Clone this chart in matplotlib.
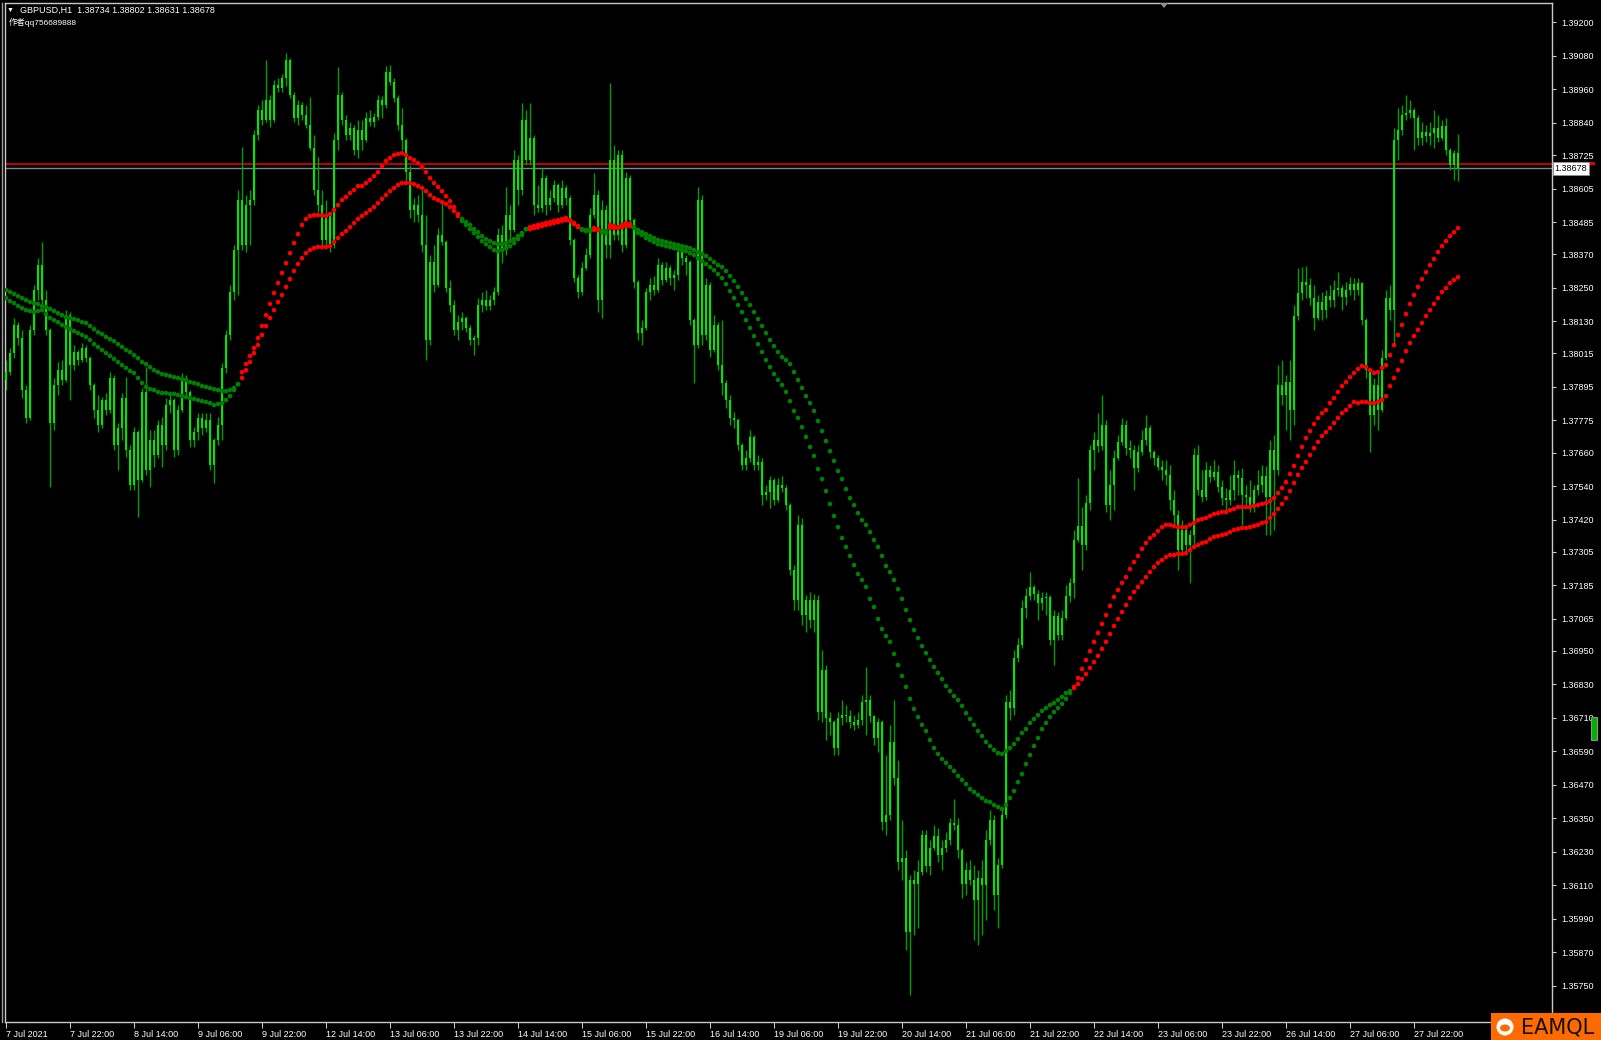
import numpy as np
import matplotlib
matplotlib.use("Agg")
import matplotlib.pyplot as plt
import matplotlib.transforms as mtransforms
from matplotlib.patches import Rectangle, Ellipse, Polygon
from matplotlib.lines import Line2D

plt.rcParams['font.family'] = ['Liberation Sans', 'Noto Sans CJK SC', 'DejaVu Sans']

W, H = 1601, 1040

symbol = "GBPUSD,H1"
last_ohlc = [1.38734, 1.38802, 1.38631, 1.38678]
author = "作者qq756689888"
bid_price = 1.38678
ask_price = 1.38692

# hourly bars, prices in points (1e-5), open of each bar = previous close
first_open = 137920
close_pts = [
    137948, 138016, 138117, 138070, 137884, 137784, 138099, 138242, 138331, 138206,
    138099, 137766, 137902, 137955, 137920, 138152, 137973, 138020, 137991, 138034,
    137998, 137902, 137812, 137759, 137848, 137812, 137927, 137687, 137748, 137855,
    137669, 137544, 137733, 137562, 137877, 137597, 137705, 137651, 137759, 137687,
    137830, 137848, 137669, 137812, 137927, 137877, 137705, 137733, 137784, 137748,
    137776, 137615, 137705, 137759, 137963, 138081, 138235, 138385, 138564, 138403,
    138546, 138564, 138797, 138886, 138850, 138922, 138850, 138976, 138965, 139001,
    139065, 138940, 138858, 138904, 138868, 138833, 138750, 138600, 138546, 138421,
    138510, 138403, 138779, 138940, 138850, 138797, 138822, 138743, 138815, 138779,
    138858, 138843, 138861, 138922, 138904, 139022, 138986, 138929, 138833, 138779,
    138664, 138528, 138546, 138510, 138403, 138063, 138342, 138260, 138439, 138414,
    138249, 138188, 138099, 138127, 138142, 138106, 138063, 138070, 138188, 138206,
    138185, 138206, 138235, 138439, 138385, 138510, 138457, 138707, 138600, 138850,
    138707, 138786, 138546, 138535, 138643, 138546, 138571, 138618, 138546, 138607,
    138571, 138421, 138285, 138235, 138321, 138367, 138510, 138582, 138206, 138528,
    138403, 138707, 138439, 138725, 138403, 138643, 138492, 138271, 138088, 138106,
    138235, 138260, 138242, 138331, 138278, 138321, 138285, 138296, 138378, 138356,
    138342, 138134, 138045, 138564, 138081, 138260, 138027, 138117, 137973, 137909,
    137848, 137784, 137776, 137687, 137615, 137640, 137716, 137615, 137626, 137508,
    137519, 137562, 137490, 137544, 137533, 137472, 137239, 137132, 137401, 137078,
    137132, 137060, 137132, 136731, 136881, 136710, 136696, 136602, 136710, 136720,
    136717, 136696, 136685, 136702, 136767, 136774, 136717, 136638, 136696, 136337,
    136362, 136624, 136495, 136194, 136208, 135943, 136130, 136115, 136158, 136291,
    136180, 136244, 136287, 136219, 136244, 136273, 136334, 136327, 136237, 136115,
    136165, 136130, 136058, 136137, 136112, 136273, 136345, 136076, 136183, 136362,
    136767, 136745, 136925, 136971, 137103, 137146, 137179, 137153, 137121, 137139,
    137143, 136989, 137075, 137007, 137068, 137146, 137193, 137346, 137397, 137329,
    137479, 137669, 137705, 137683, 137759, 137472, 137544, 137640, 137698, 137759,
    137676, 137669, 137604, 137662, 137705, 137748, 137662, 137640, 137608, 137597,
    137580, 137490, 137436, 137311, 137383, 137329, 137365, 137651, 137526, 137501,
    137597, 137572, 137590, 137537, 137497, 137490, 137526, 137580, 137569, 137508,
    137501, 137472, 137526, 137544, 137576, 137501, 137669, 137597, 137902, 137866,
    137912, 137812, 138149, 138231, 138270, 138260, 138213, 138142, 138199, 138170,
    138220, 138206, 138242, 138249, 138217, 138242, 138263, 138242, 138267, 138134,
    137955, 137794, 137902, 137812, 137998, 138213, 138170, 138779, 138815, 138868,
    138875, 138886, 138858, 138786, 138807, 138793, 138804, 138822, 138786, 138829,
    138743, 138689, 138734, 138678,
]
high_pts = [
    137991, 138034, 138142, 138127, 138099, 137902, 138117, 138260, 138356, 138414,
    138242, 138106, 137927, 137984, 137991, 138170, 138163, 138045, 138027, 138052,
    138045, 138006, 137909, 137866, 137859, 137873, 137948, 137938, 137766, 137873,
    137930, 137687, 137751, 137741, 137891, 137966, 137741, 137741, 137776, 137787,
    137855, 137873, 137855, 137830, 137945, 137938, 137884, 137751, 137801, 137801,
    137801, 137801, 137712, 137787, 137980, 138099, 138260, 138403, 138600, 138754,
    138582, 138600, 138815, 138904, 138922, 139065, 138940, 138994, 139001, 139015,
    139090, 139072, 138951, 138922, 138915, 138904, 138933, 138797, 138718, 138600,
    138564, 138510, 138804, 139040, 138951, 138868, 138843, 138833, 138850, 138850,
    138879, 138886, 138875, 138940, 138936, 139044, 139047, 139001, 138940, 138893,
    138786, 138689, 138571, 138582, 138600, 138510, 138367, 138403, 138464, 138553,
    138421, 138278, 138206, 138152, 138163, 138149, 138117, 138081, 138213, 138235,
    138242, 138224, 138253, 138464, 138475, 138611, 138546, 138743, 138725, 138911,
    138886, 138911, 138797, 138618, 138679, 138654, 138600, 138636, 138625, 138636,
    138618, 138582, 138428, 138296, 138342, 138392, 138535, 138661, 138600, 138564,
    138546, 138983, 138761, 138743, 138743, 138664, 138654, 138500, 138278, 138134,
    138249, 138285, 138292, 138356, 138342, 138342, 138331, 138313, 138392, 138403,
    138367, 138349, 138142, 138611, 138582, 138285, 138271, 138152, 138127, 138134,
    137920, 137866, 137805, 137784, 137694, 137669, 137741, 137723, 137651, 137640,
    137544, 137576, 137569, 137569, 137576, 137544, 137479, 137257, 137436, 137426,
    137150, 137161, 137153, 137150, 136953, 136899, 136731, 136702, 136731, 136774,
    136756, 136738, 136720, 136731, 136792, 136892, 136792, 136720, 136710, 136702,
    136577, 136685, 136774, 136559, 136344, 136237, 136148, 136165, 136201, 136309,
    136309, 136273, 136327, 136316, 136273, 136301, 136352, 136420, 136352, 136244,
    136194, 136201, 136183, 136165, 136201, 136309, 136380, 136362, 136208, 136380,
    136792, 136810, 136953, 136996, 137132, 137175, 137232, 137186, 137168, 137161,
    137161, 137150, 137096, 137089, 137096, 137186, 137211, 137383, 137569, 137465,
    137508, 137687, 137733, 137801, 137866, 137776, 137597, 137669, 137723, 137784,
    137776, 137705, 137687, 137687, 137741, 137794, 137759, 137669, 137651, 137633,
    137633, 137615, 137526, 137454, 137418, 137401, 137383, 137676, 137687, 137597,
    137626, 137615, 137633, 137615, 137562, 137533, 137580, 137633, 137597, 137605,
    137544, 137562, 137544, 137597, 137615, 137612, 137705, 137723, 137973, 137991,
    137938, 137991, 138188, 138321, 138324, 138328, 138285, 138260, 138224, 138235,
    138242, 138260, 138278, 138306, 138260, 138270, 138288, 138285, 138285, 138270,
    138142, 137963, 137927, 137948, 138027, 138242, 138260, 138822, 138893, 138904,
    138940, 138922, 138893, 138868, 138843, 138833, 138843, 138886, 138868, 138850,
    138858, 138750, 138743, 138802,
]
low_pts = [
    137884, 137938, 137998, 138045, 137855, 137766, 137776, 138081, 138206, 138188,
    138081, 137537, 137741, 137866, 137902, 137912, 137848, 137955, 137973, 137984,
    137984, 137884, 137784, 137733, 137748, 137794, 137801, 137669, 137597, 137705,
    137644, 137526, 137526, 137429, 137554, 137580, 137537, 137608, 137640, 137608,
    137669, 137801, 137644, 137651, 137805, 137855, 137680, 137680, 137705, 137723,
    137733, 137597, 137551, 137687, 137705, 137945, 138063, 138206, 138224, 138385,
    138378, 138403, 138546, 138779, 138833, 138843, 138825, 138843, 138951, 138951,
    138972, 138929, 138843, 138833, 138850, 138822, 138743, 138582, 138521, 138392,
    138403, 138378, 138392, 138743, 138833, 138779, 138779, 138725, 138714, 138743,
    138772, 138829, 138825, 138850, 138858, 138893, 138976, 138915, 138815, 138743,
    138628, 138500, 138485, 138485, 138378, 137991, 138045, 138235, 138253, 138403,
    138235, 138163, 138081, 138063, 138099, 138091, 138045, 138009, 138045, 138163,
    138170, 138170, 138188, 138224, 138338, 138367, 138421, 138449, 138546, 138582,
    138689, 138689, 138510, 138521, 138521, 138510, 138528, 138557, 138521, 138535,
    138546, 138403, 138270, 138213, 138224, 138313, 138356, 138500, 138163, 138142,
    138356, 138356, 138421, 138421, 138378, 138392, 138464, 138249, 138063, 138045,
    138099, 138206, 138224, 138235, 138260, 138270, 138260, 138242, 138278, 138331,
    138296, 138117, 137909, 138034, 138045, 138063, 138002, 138020, 137955, 137866,
    137819, 137759, 137748, 137669, 137597, 137597, 137626, 137597, 137597, 137472,
    137490, 137461, 137472, 137483, 137519, 137454, 137222, 137096, 137096, 137043,
    137017, 137032, 137017, 136702, 136696, 136631, 136649, 136577, 136577, 136685,
    136696, 136674, 136667, 136674, 136685, 136649, 136696, 136613, 136588, 136309,
    136291, 136344, 136470, 136165, 136130, 135879, 135718, 135933, 135958, 136148,
    136158, 136148, 136237, 136194, 136165, 136230, 136255, 136309, 136208, 136065,
    136076, 136112, 135915, 135897, 135933, 135986, 136255, 136022, 135958, 136173,
    136352, 136702, 136720, 136910, 136960, 137068, 137132, 137132, 137060, 137096,
    137078, 136971, 136899, 136989, 136989, 137060, 137125, 137139, 137340, 137239,
    137311, 137454, 137597, 137662, 137669, 137447, 137418, 137454, 137633, 137687,
    137651, 137640, 137526, 137590, 137651, 137687, 137640, 137615, 137597, 137562,
    137544, 137454, 137401, 137239, 137293, 137304, 137193, 137329, 137508, 137483,
    137490, 137554, 137562, 137519, 137472, 137454, 137472, 137490, 137508, 137401,
    137472, 137447, 137447, 137508, 137519, 137365, 137365, 137383, 137580, 137830,
    137741, 137705, 137759, 138134, 138206, 138213, 138188, 138099, 138134, 138134,
    138142, 138181, 138181, 138220, 138170, 138188, 138224, 138206, 138224, 138117,
    137927, 137662, 137759, 137741, 137805, 137991, 138134, 138045, 138707, 138797,
    138850, 138858, 138743, 138761, 138761, 138772, 138761, 138750, 138772, 138779,
    138725, 138671, 138636, 138631,
]

# two moving averages, one value per bar
ma_fast_pts = [
    138213, 138202, 138195, 138185, 138177, 138170, 138167, 138163, 138167, 138170,
    138156, 138142, 138134, 138127, 138117, 138109, 138102, 138095, 138088, 138081,
    138074, 138063, 138048, 138038, 138027, 138016, 138006, 137995, 137984, 137973,
    137963, 137952, 137945, 137927, 137909, 137895, 137887, 137884, 137877, 137873,
    137873, 137870, 137870, 137866, 137862, 137859, 137855, 137852, 137848, 137844,
    137841, 137837, 137830, 137834, 137837, 137848, 137862, 137884, 137905, 137948,
    137977, 138006, 138034, 138070, 138113, 138152, 138192, 138231, 138267, 138303,
    138338, 138374, 138410, 138442, 138475, 138496, 138507, 138510, 138510, 138510,
    138507, 138514, 138528, 138546, 138564, 138575, 138589, 138600, 138614, 138614,
    138625, 138636, 138650, 138664, 138686, 138704, 138714, 138725, 138729, 138732,
    138725, 138714, 138707, 138696, 138682, 138664, 138643, 138625, 138611, 138596,
    138578, 138560, 138539, 138514, 138489, 138475, 138460, 138446, 138432, 138417,
    138406, 138396, 138385, 138381, 138385, 138392, 138399, 138410, 138424, 138439,
    138460, 138467, 138471, 138475, 138478, 138482, 138485, 138489, 138492, 138496,
    138500, 138492, 138482, 138471, 138457, 138453, 138453, 138464, 138460, 138449,
    138446, 138475, 138471, 138467, 138475, 138482, 138478, 138464, 138446, 138439,
    138428, 138421, 138414, 138406, 138403, 138399, 138396, 138392, 138389, 138385,
    138381, 138374, 138367, 138356, 138346, 138335, 138324, 138313, 138299, 138285,
    138263, 138238, 138213, 138188, 138163, 138134, 138106, 138077, 138048, 138020,
    137991, 137966, 137941, 137920, 137902, 137877, 137844, 137809, 137784, 137751,
    137716, 137680, 137648, 137601, 137565, 137522, 137476, 137433, 137393, 137354,
    137322, 137290, 137257, 137225, 137204, 137179, 137136, 137107, 137064, 137028,
    137003, 136982, 136939, 136899, 136860, 136821, 136778, 136742, 136713, 136685,
    136663, 136631, 136602, 136581, 136563, 136549, 136534, 136520, 136502, 136488,
    136473, 136455, 136445, 136434, 136423, 136412, 136409, 136398, 136391, 136384,
    136398, 136423, 136448, 136480, 136509, 136545, 136577, 136609, 136638, 136670,
    136692, 136713, 136731, 136745, 136760, 136778, 136799, 136821, 136853, 136885,
    136917, 136949, 136982, 137014, 137046, 137078, 137111, 137143, 137168, 137193,
    137214, 137243, 137268, 137290, 137315, 137336, 137354, 137365, 137379, 137393,
    137401, 137401, 137397, 137393, 137393, 137393, 137401, 137408, 137418, 137422,
    137426, 137433, 137440, 137443, 137447, 137447, 137454, 137458, 137465, 137465,
    137465, 137465, 137469, 137472, 137476, 137479, 137486, 137497, 137515, 137533,
    137554, 137583, 137612, 137648, 137680, 137712, 137737, 137762, 137784, 137801,
    137812, 137837, 137855, 137877, 137898, 137912, 137930, 137945, 137959, 137970,
    137966, 137955, 137945, 137948, 137963, 137973, 138009, 138045, 138081, 138117,
    138156, 138192, 138224, 138253, 138281, 138306, 138331, 138353, 138378, 138399,
    138417, 138435, 138449, 138464,
]
ma_slow_pts = [
    138242, 138235, 138228, 138220, 138213, 138206, 138199, 138195, 138192, 138185,
    138181, 138174, 138167, 138159, 138152, 138145, 138142, 138138, 138134, 138127,
    138124, 138113, 138102, 138091, 138084, 138074, 138066, 138059, 138048, 138038,
    138027, 138020, 138009, 137998, 137984, 137977, 137966, 137955, 137948, 137941,
    137938, 137934, 137930, 137927, 137923, 137920, 137912, 137909, 137905, 137898,
    137895, 137891, 137887, 137884, 137880, 137880, 137884, 137891, 137905, 137927,
    137955, 137984, 138016, 138045, 138081, 138113, 138142, 138170, 138199, 138224,
    138253, 138281, 138310, 138335, 138356, 138374, 138385, 138392, 138396, 138396,
    138396, 138399, 138414, 138428, 138442, 138453, 138467, 138482, 138496, 138507,
    138517, 138528, 138539, 138553, 138568, 138582, 138596, 138607, 138618, 138625,
    138625, 138625, 138621, 138614, 138607, 138596, 138582, 138571, 138564, 138557,
    138550, 138539, 138525, 138507, 138496, 138485, 138475, 138460, 138449, 138435,
    138424, 138417, 138410, 138406, 138406, 138410, 138417, 138424, 138435, 138446,
    138460, 138460, 138464, 138467, 138471, 138475, 138478, 138482, 138485, 138489,
    138492, 138489, 138478, 138467, 138460, 138457, 138457, 138457, 138457, 138453,
    138453, 138464, 138464, 138464, 138467, 138471, 138471, 138467, 138457, 138449,
    138442, 138435, 138428, 138421, 138417, 138414, 138410, 138406, 138403, 138399,
    138396, 138392, 138385, 138378, 138371, 138364, 138353, 138342, 138331, 138324,
    138310, 138292, 138274, 138253, 138231, 138210, 138188, 138163, 138138, 138113,
    138088, 138063, 138041, 138020, 138002, 137991, 137977, 137948, 137920, 137891,
    137862, 137837, 137809, 137773, 137737, 137701, 137665, 137630, 137594, 137565,
    137529, 137497, 137472, 137443, 137418, 137401, 137375, 137347, 137322, 137290,
    137254, 137232, 137204, 137171, 137136, 137096, 137060, 137025, 136996, 136967,
    136942, 136917, 136892, 136871, 136849, 136824, 136806, 136788, 136774, 136753,
    136727, 136706, 136685, 136663, 136645, 136624, 136609, 136595, 136584, 136581,
    136591, 136602, 136616, 136634, 136656, 136670, 136692, 136706, 136720, 136735,
    136745, 136756, 136763, 136774, 136785, 136799, 136806, 136817, 136831, 136849,
    136867, 136889, 136910, 136932, 136957, 136982, 137010, 137039, 137064, 137089,
    137114, 137139, 137161, 137179, 137196, 137214, 137232, 137250, 137265, 137275,
    137286, 137293, 137293, 137297, 137297, 137300, 137311, 137322, 137329, 137336,
    137340, 137350, 137358, 137361, 137365, 137368, 137375, 137383, 137386, 137390,
    137390, 137393, 137397, 137401, 137408, 137411, 137426, 137440, 137458, 137476,
    137497, 137522, 137551, 137580, 137605, 137626, 137651, 137676, 137698, 137719,
    137733, 137748, 137766, 137784, 137801, 137812, 137827, 137841, 137837, 137841,
    137841, 137837, 137837, 137841, 137848, 137862, 137898, 137927, 137955, 137988,
    138023, 138052, 138077, 138099, 138124, 138149, 138170, 138192, 138213, 138235,
    138249, 138267, 138278, 138288,
]

time_labels = [
    "7 Jul 2021", "7 Jul 22:00", "8 Jul 14:00", "9 Jul 06:00", "9 Jul 22:00",
    "12 Jul 14:00", "13 Jul 06:00", "13 Jul 22:00", "14 Jul 14:00", "15 Jul 06:00",
    "15 Jul 22:00", "16 Jul 14:00", "19 Jul 06:00", "19 Jul 22:00", "20 Jul 14:00",
    "21 Jul 06:00", "21 Jul 22:00", "22 Jul 14:00", "23 Jul 06:00", "23 Jul 22:00",
    "26 Jul 14:00", "27 Jul 06:00", "27 Jul 22:00",
]
label_step = 16
price_ticks = [
    1.39200, 1.39080, 1.38960, 1.38840, 1.38725, 1.38605, 1.38485, 1.38370,
    1.38250, 1.38130, 1.38015, 1.37895, 1.37775, 1.37660, 1.37540, 1.37420,
    1.37305, 1.37185, 1.37065, 1.36950, 1.36830, 1.36710, 1.36590, 1.36470,
    1.36350, 1.36230, 1.36110, 1.35990, 1.35870, 1.35750,
]

n = min(len(close_pts), len(high_pts), len(low_pts), len(ma_fast_pts), len(ma_slow_pts))

close = np.array(close_pts[:n]) / 1e5
high = np.array(high_pts[:n]) / 1e5
low = np.array(low_pts[:n]) / 1e5
opn = np.concatenate([[first_open / 1e5], close[:-1]])
high = np.maximum(high, np.maximum(opn, close))
low = np.minimum(low, np.minimum(opn, close))
fast = np.array(ma_fast_pts[:n]) / 1e5
slow = np.array(ma_slow_pts[:n]) / 1e5
x = np.arange(n)

fig = plt.figure(figsize=(W / 100, H / 100), dpi=100, facecolor='black')
ax = fig.add_axes([5 / W, 18 / H, 1547 / W, 1019 / H])
ax.set_facecolor('black')
ax.set_xlim(-0.25, 386.5)
ax.set_ylim(1.356211, 1.392696)

# bid / ask lines
ax.axhline(ask_price, color='#C00000', lw=1.4, zorder=1.5)
ax.axhline(bid_price, color='#778899', lw=1.0, zorder=1.5)

# candles
ax.vlines(x, low, high, colors='#00A000', linewidth=1.0, zorder=2)
body_lo = np.minimum(opn, close)
body_h = np.maximum(np.abs(close - opn), 0.00004)
ax.bar(x, body_h, bottom=body_lo, width=0.65, color='#00E600', linewidth=0, zorder=3)

# moving average dots, red while the fast one is above the slow one
up = fast > slow
dot_colors = np.where(up, '#FF0000', '#008000')
ax.scatter(x, slow, s=11, c=dot_colors, marker='o', linewidths=0, zorder=4)
ax.scatter(x, fast, s=11, c=dot_colors, marker='o', linewidths=0, zorder=4)

for sp in ax.spines.values():
    sp.set_color('#C8C8C8')
    sp.set_linewidth(1.0)

ax.yaxis.tick_right()
ax.set_yticks(price_ticks)
ax.set_yticklabels([f"{p:.5f}" for p in price_ticks])
ax.tick_params(axis='y', colors='#C8C8C8', labelcolor='white', labelsize=6.5,
               length=3, width=0.8, pad=4)
ax.set_xticks(list(range(0, label_step * len(time_labels), label_step)))
ax.set_xticklabels(time_labels)
ax.tick_params(axis='x', colors='#C8C8C8', labelcolor='white', labelsize=6.5,
               length=4, width=0.8, pad=2)
for t in ax.get_xticklabels():
    t.set_ha('left')

# price marks on the scale: red ask strip behind the white bid label
trans = mtransforms.blended_transform_factory(ax.transAxes, ax.transData)
ax.add_patch(Rectangle((1.0008, 1.38688), 0.027, 0.00014, transform=trans,
                       fc='#E00000', ec='none', clip_on=False, zorder=9))
ax.text(1.0017, bid_price, f"{bid_price:.5f}", transform=trans, ha='left', va='center',
        fontsize=6.5, color='black', clip_on=False, zorder=10,
        bbox=dict(boxstyle='square,pad=0.2', fc='white', ec='#909090', lw=0.5))

# header
fig.text(7 / W, 1 - 10 / H, "\u25bc", fontsize=5, color='white', va='center')
o, h, l, c = last_ohlc
fig.text(20 / W, 1 - 10 / H, f"{symbol}  {o:.5f} {h:.5f} {l:.5f} {c:.5f}",
         fontsize=6.5, color='white', va='center')
fig.text(9 / W, 1 - 22 / H, author, fontsize=6.0, color='white', va='center')

# window bits
fig.add_artist(Line2D([2 / W, 2 / W], [18 / H, 1 - 3 / H], color='#A0A0A0', lw=1.0))
fig.add_artist(Polygon([[1160 / W, 1 - 3 / H], [1168 / W, 1 - 3 / H], [1164 / W, 1 - 8 / H]],
                       closed=True, transform=fig.transFigure, fc='#909090', ec='none'))
fig.add_artist(Rectangle((1591 / W, 1 - 740 / H), 6 / W, 23 / H, transform=fig.transFigure,
                         fc='#00B000', ec='#909090', lw=0.8))

# watermark
fig.add_artist(Rectangle((1491 / W, 0), 110 / W, 27 / H, transform=fig.transFigure,
                         fc='#FF6A00', ec='none', zorder=20))
fig.add_artist(Ellipse((1505 / W, 13 / H), 17 / W, 17 / H, transform=fig.transFigure,
                       fc='white', ec='none', zorder=21))
fig.add_artist(Ellipse((1505 / W, 12 / H), 10 / W, 7 / H, transform=fig.transFigure,
                       fc='#FF6A00', ec='none', zorder=22))
fig.text(1521 / W, 13 / H, "EAMQL", fontsize=15, color='#111111', va='center', ha='left',
         zorder=23, family='DejaVu Sans')

fig.savefig('out.png', dpi=100, facecolor='black')
